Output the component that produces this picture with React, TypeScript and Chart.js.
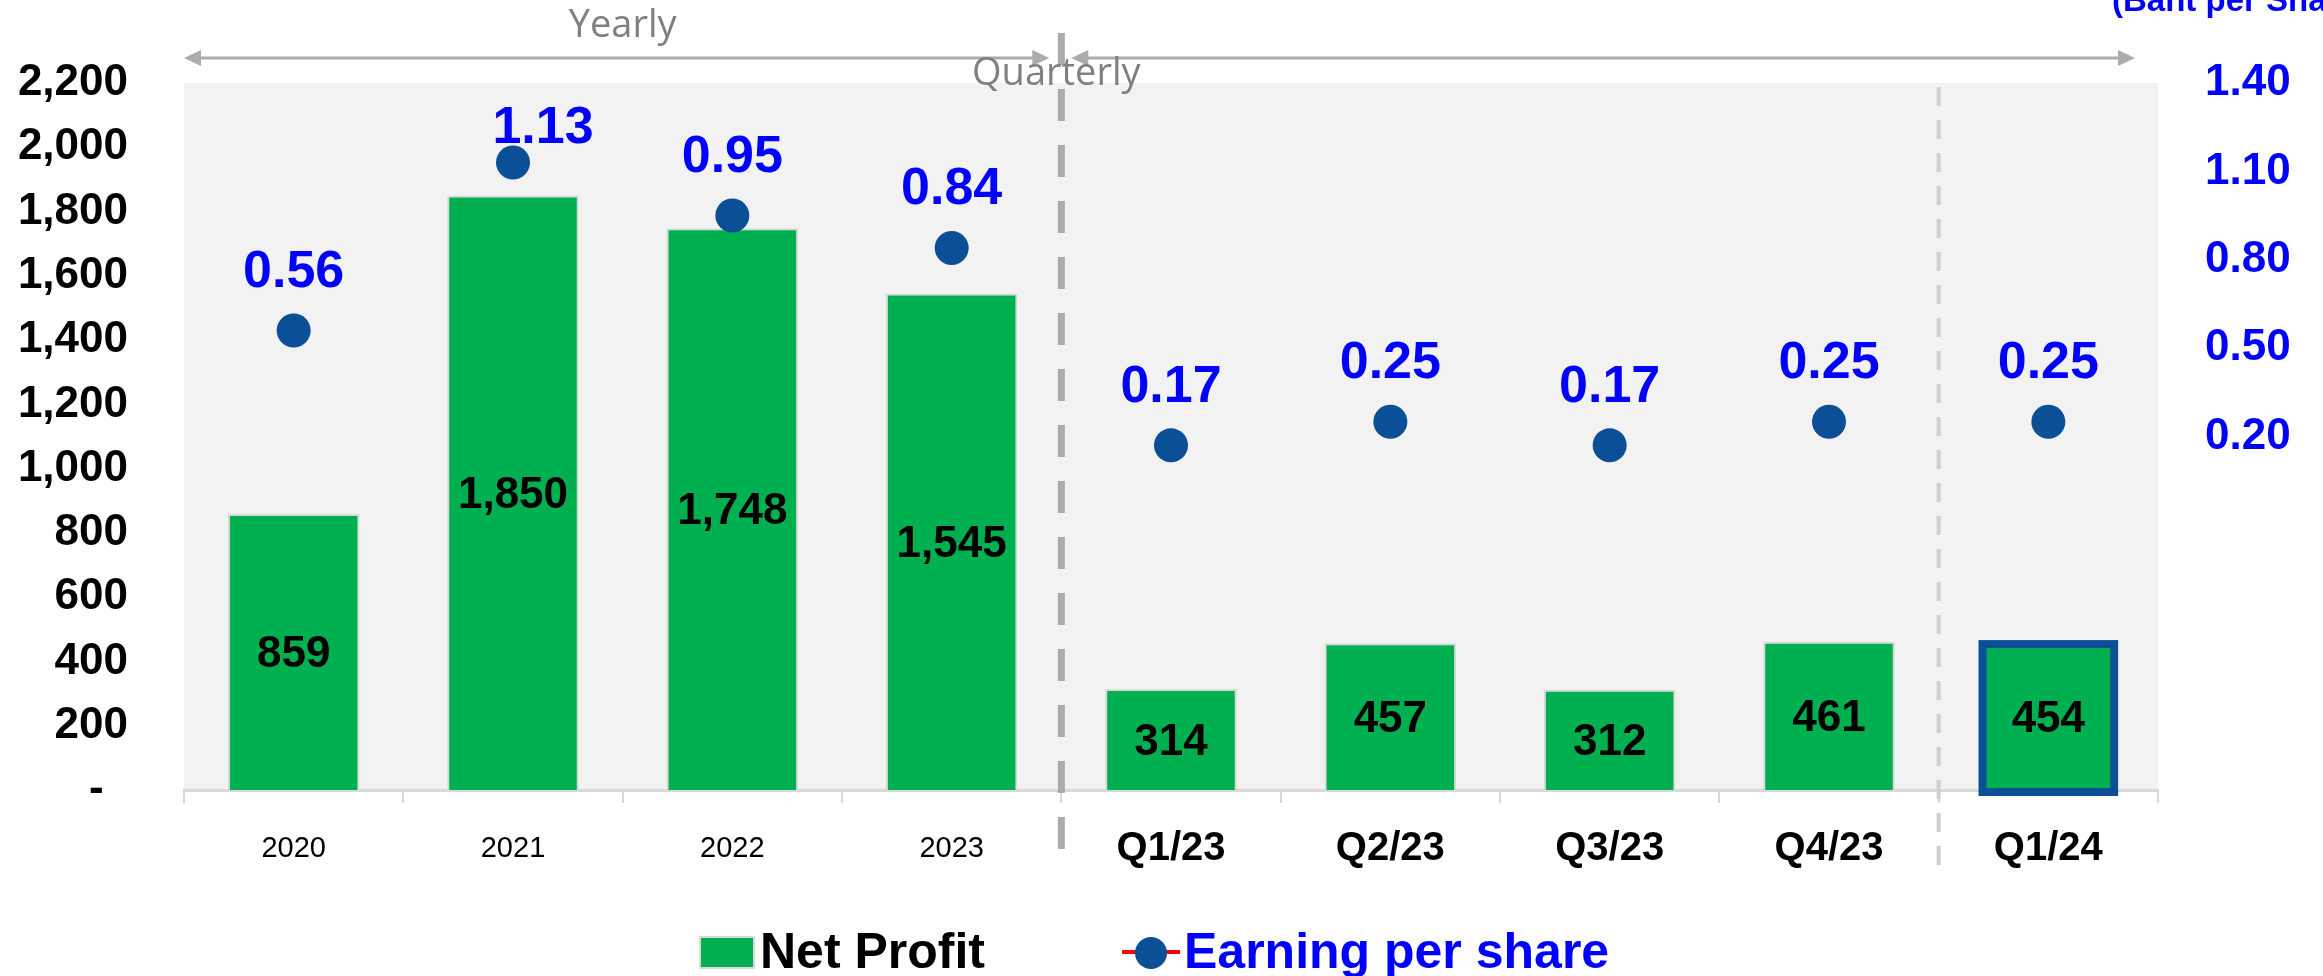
import React, { useEffect, useRef } from "react";
import { Chart, registerables } from "chart.js";

Chart.register(...registerables);

// ---------- data ----------
const categories = ["2020", "2021", "2022", "2023", "Q1/23", "Q2/23", "Q3/23", "Q4/23", "Q1/24"];
const netProfit = [859, 1850, 1748, 1545, 314, 457, 312, 461, 454];
const earningPerShare = [0.56, 1.13, 0.95, 0.84, 0.17, 0.25, 0.17, 0.25, 0.25];
const seriesNames = ["Net Profit", "Earning per share"];
const yearlyCount = 4;
const highlightIndex = 8;
const sectionLabels = ["Yearly", "Quarterly"];
const rightAxisTitle = "(Baht per Share)";
const leftAxisRange = [0, 2200, 200];
const rightAxisRange = [-1.0, 1.4, 0.3];

// ---------- styles ----------
const FONT = "'Liberation Sans', Arial, sans-serif";
const LIGHT_FONT = "'Open Sans', 'Liberation Sans', sans-serif";
const GREEN = "#00B050";
const NAVY = "#0B4F96";
const BLUE = "#0000FF";
const PLOT_BG = "#F2F2F2";
const AXIS_GRAY = "#D9D9D9";
const ARROW_GRAY = "#ADABAB";

const plotBackground = {
  id: "plotBackground",
  beforeDraw(chart: any) {
    const { ctx, chartArea } = chart;
    ctx.save();
    ctx.fillStyle = PLOT_BG;
    ctx.fillRect(chartArea.left, chartArea.top, chartArea.right - chartArea.left, chartArea.bottom - chartArea.top);
    ctx.restore();
  },
};

const valueLabels = {
  id: "valueLabels",
  afterDatasetsDraw(chart: any) {
    const { ctx } = chart;
    ctx.save();
    // highlight border for the last bar
    const barMeta = chart.getDatasetMeta(0);
    const hb = barMeta.data[highlightIndex];
    if (hb) {
      const w = hb.width;
      ctx.strokeStyle = NAVY;
      ctx.lineWidth = 8;
      ctx.strokeRect(hb.x - w / 2, hb.y, w, hb.base - hb.y + 2);
    }
    // bar values
    ctx.fillStyle = "#000";
    ctx.font = `bold 44px ${FONT}`;
    ctx.textAlign = "center";
    ctx.textBaseline = "middle";
    barMeta.data.forEach((el: any, i: number) => {
      const v = chart.data.datasets[0].data[i];
      ctx.fillText(Number(v).toLocaleString("en-US"), el.x, (el.y + el.base) / 2 + 3);
    });
    // EPS values
    const pMeta = chart.getDatasetMeta(1);
    ctx.fillStyle = BLUE;
    ctx.font = `bold 52px ${FONT}`;
    pMeta.data.forEach((el: any, i: number) => {
      const v = Number(chart.data.datasets[1].data[i]);
      let dx = 0;
      let dy = -60;
      if (el.y - 60 - 26 < chart.chartArea.top + 25) {
        dx = 30;
        dy = -36;
      }
      ctx.fillText(v.toFixed(2), el.x + dx, el.y + dy + 2);
    });
    ctx.restore();
  },
};

function arrowHead(ctx: any, tipX: number, y: number, dir: number) {
  ctx.beginPath();
  ctx.moveTo(tipX, y);
  ctx.lineTo(tipX - dir * 17, y - 8);
  ctx.lineTo(tipX - dir * 17, y + 8);
  ctx.closePath();
  ctx.fill();
}

const annotations = {
  id: "annotations",
  afterDraw(chart: any) {
    const { ctx, chartArea } = chart;
    const xs = chart.scales.x;
    const b1 = (xs.getPixelForValue(yearlyCount - 1) + xs.getPixelForValue(yearlyCount)) / 2;
    const b2 = (xs.getPixelForValue(highlightIndex - 1) + xs.getPixelForValue(highlightIndex)) / 2;
    ctx.save();
    // divider Yearly | Quarterly
    ctx.strokeStyle = ARROW_GRAY;
    ctx.lineWidth = 7;
    ctx.setLineDash([32, 24]);
    ctx.beginPath();
    ctx.moveTo(b1, 33);
    ctx.lineTo(b1, 850);
    ctx.stroke();
    // divider before latest quarter
    ctx.strokeStyle = "#D0CECE";
    ctx.lineWidth = 4;
    ctx.setLineDash([19, 14]);
    ctx.beginPath();
    ctx.moveTo(b2, chartArea.top + 4);
    ctx.lineTo(b2, 875);
    ctx.stroke();
    ctx.setLineDash([]);

    // arrows
    const ay = 58;
    ctx.strokeStyle = ARROW_GRAY;
    ctx.fillStyle = ARROW_GRAY;
    ctx.lineWidth = 3;
    const yL = chartArea.left, yR = b1 - 12;
    const qL = b1 + 10, qR = chartArea.right - 23;
    ctx.beginPath();
    ctx.moveTo(yL + 5, ay);
    ctx.lineTo(yR - 5, ay);
    ctx.moveTo(qL + 5, ay);
    ctx.lineTo(qR - 5, ay);
    ctx.stroke();
    arrowHead(ctx, yL, ay, -1);
    arrowHead(ctx, yR, ay, 1);
    arrowHead(ctx, qL, ay, -1);
    arrowHead(ctx, qR, ay, 1);

    // section labels
    ctx.fillStyle = "#808080";
    ctx.font = `38px ${LIGHT_FONT}`;
    ctx.textAlign = "center";
    ctx.textBaseline = "alphabetic";
    ctx.fillText(sectionLabels[0], (yL + yR) / 2 + 6, 37);
    ctx.fillText(sectionLabels[1], b1 - 5, 85);

    // right axis title (cut at top)
    ctx.fillStyle = BLUE;
    ctx.font = `bold 33px ${FONT}`;
    ctx.textAlign = "left";
    ctx.fillText(rightAxisTitle, 2112, 11);

    // legend
    const ly = 952;
    ctx.fillStyle = GREEN;
    ctx.fillRect(700, 937, 54, 31);
    ctx.strokeStyle = AXIS_GRAY;
    ctx.lineWidth = 2;
    ctx.strokeRect(700, 937, 54, 31);
    ctx.fillStyle = "#000";
    ctx.font = `bold 50px ${FONT}`;
    ctx.textAlign = "left";
    ctx.fillText(chart.data.datasets[0].label, 760, 968);
    ctx.strokeStyle = "#FF0000";
    ctx.lineWidth = 4;
    ctx.beginPath();
    ctx.moveTo(1122, ly);
    ctx.lineTo(1180, ly);
    ctx.stroke();
    ctx.fillStyle = NAVY;
    ctx.beginPath();
    ctx.arc(1151, ly + 1, 16, 0, Math.PI * 2);
    ctx.fill();
    ctx.fillStyle = BLUE;
    ctx.fillText(chart.data.datasets[1].label, 1184, 968);
    ctx.restore();
  },
};

export default function App() {
  const canvasRef = useRef<HTMLCanvasElement | null>(null);

  useEffect(() => {
    if (!canvasRef.current) return;
    const chart = new Chart(canvasRef.current, {
      type: "bar",
      data: {
        labels: categories,
        datasets: [
          {
            type: "bar",
            label: seriesNames[0],
            data: netProfit,
            yAxisID: "y",
            backgroundColor: GREEN,
            borderColor: (c: any) => (c.dataIndex === highlightIndex ? "rgba(0,0,0,0)" : AXIS_GRAY),
            borderWidth: (c: any) => (c.dataIndex === highlightIndex ? 0 : 2),
            barPercentage: 0.6,
            categoryPercentage: 1,
            order: 2,
          } as any,
          {
            type: "line",
            label: seriesNames[1],
            data: earningPerShare,
            yAxisID: "y1",
            showLine: false,
            pointRadius: 17,
            pointHoverRadius: 17,
            pointBackgroundColor: NAVY,
            pointBorderWidth: 0,
            order: 1,
          } as any,
        ],
      },
      options: {
        responsive: false,
        animation: false,
        devicePixelRatio: 1,
        layout: { padding: { top: 83, bottom: 66, left: 0, right: 0 } },
        plugins: { legend: { display: false }, tooltip: { enabled: false } },
        scales: {
          x: {
            offset: true,
            grid: {
              offset: true,
              drawOnChartArea: false,
              drawTicks: true,
              tickLength: 13,
              color: AXIS_GRAY,
              lineWidth: 2,
            },
            border: { display: true, color: AXIS_GRAY, width: 3 },
            ticks: {
              color: "#000",
              padding: 22,
              maxRotation: 0,
              autoSkip: false,
              font: (c: any) =>
                c.index < yearlyCount
                  ? { family: FONT, size: 29, weight: "normal", lineHeight: 48 / 29 }
                  : { family: FONT, size: 40, weight: "bold", lineHeight: 1.2 },
            },
            afterFit: (s: any) => {
              s.height = 120;
            },
          },
          y: {
            position: "left",
            min: leftAxisRange[0],
            max: leftAxisRange[1],
            grid: { display: false, drawTicks: false },
            border: { display: false },
            ticks: {
              stepSize: leftAxisRange[2],
              padding: 56,
              color: "#000",
              font: { family: FONT, size: 44, weight: "bold" },
              callback: (v: any) => (Number(v) === 0 ? "-\u00A0\u00A0" : Number(v).toLocaleString("en-US")),
            },
            afterFit: (s: any) => {
              s.width = 184;
            },
          },
          y1: {
            position: "right",
            min: rightAxisRange[0],
            max: rightAxisRange[1],
            grid: { display: false, drawTicks: false },
            border: { display: false },
            ticks: {
              stepSize: rightAxisRange[2],
              padding: 47,
              color: BLUE,
              font: { family: FONT, size: 44, weight: "bold" },
              callback: (v: any) => (Number(v) > 0.05 ? Number(v).toFixed(2) : ""),
            },
            afterFit: (s: any) => {
              s.width = 165;
            },
          },
        },
      } as any,
      plugins: [plotBackground, valueLabels, annotations],
    });
    return () => chart.destroy();
  }, []);

  return (
    <div style={{ position: "fixed", left: 0, top: 0, width: 2323, height: 976, background: "#fff" }}>
      <canvas ref={canvasRef} width={2323} height={976} style={{ display: "block" }} />
    </div>
  );
}
